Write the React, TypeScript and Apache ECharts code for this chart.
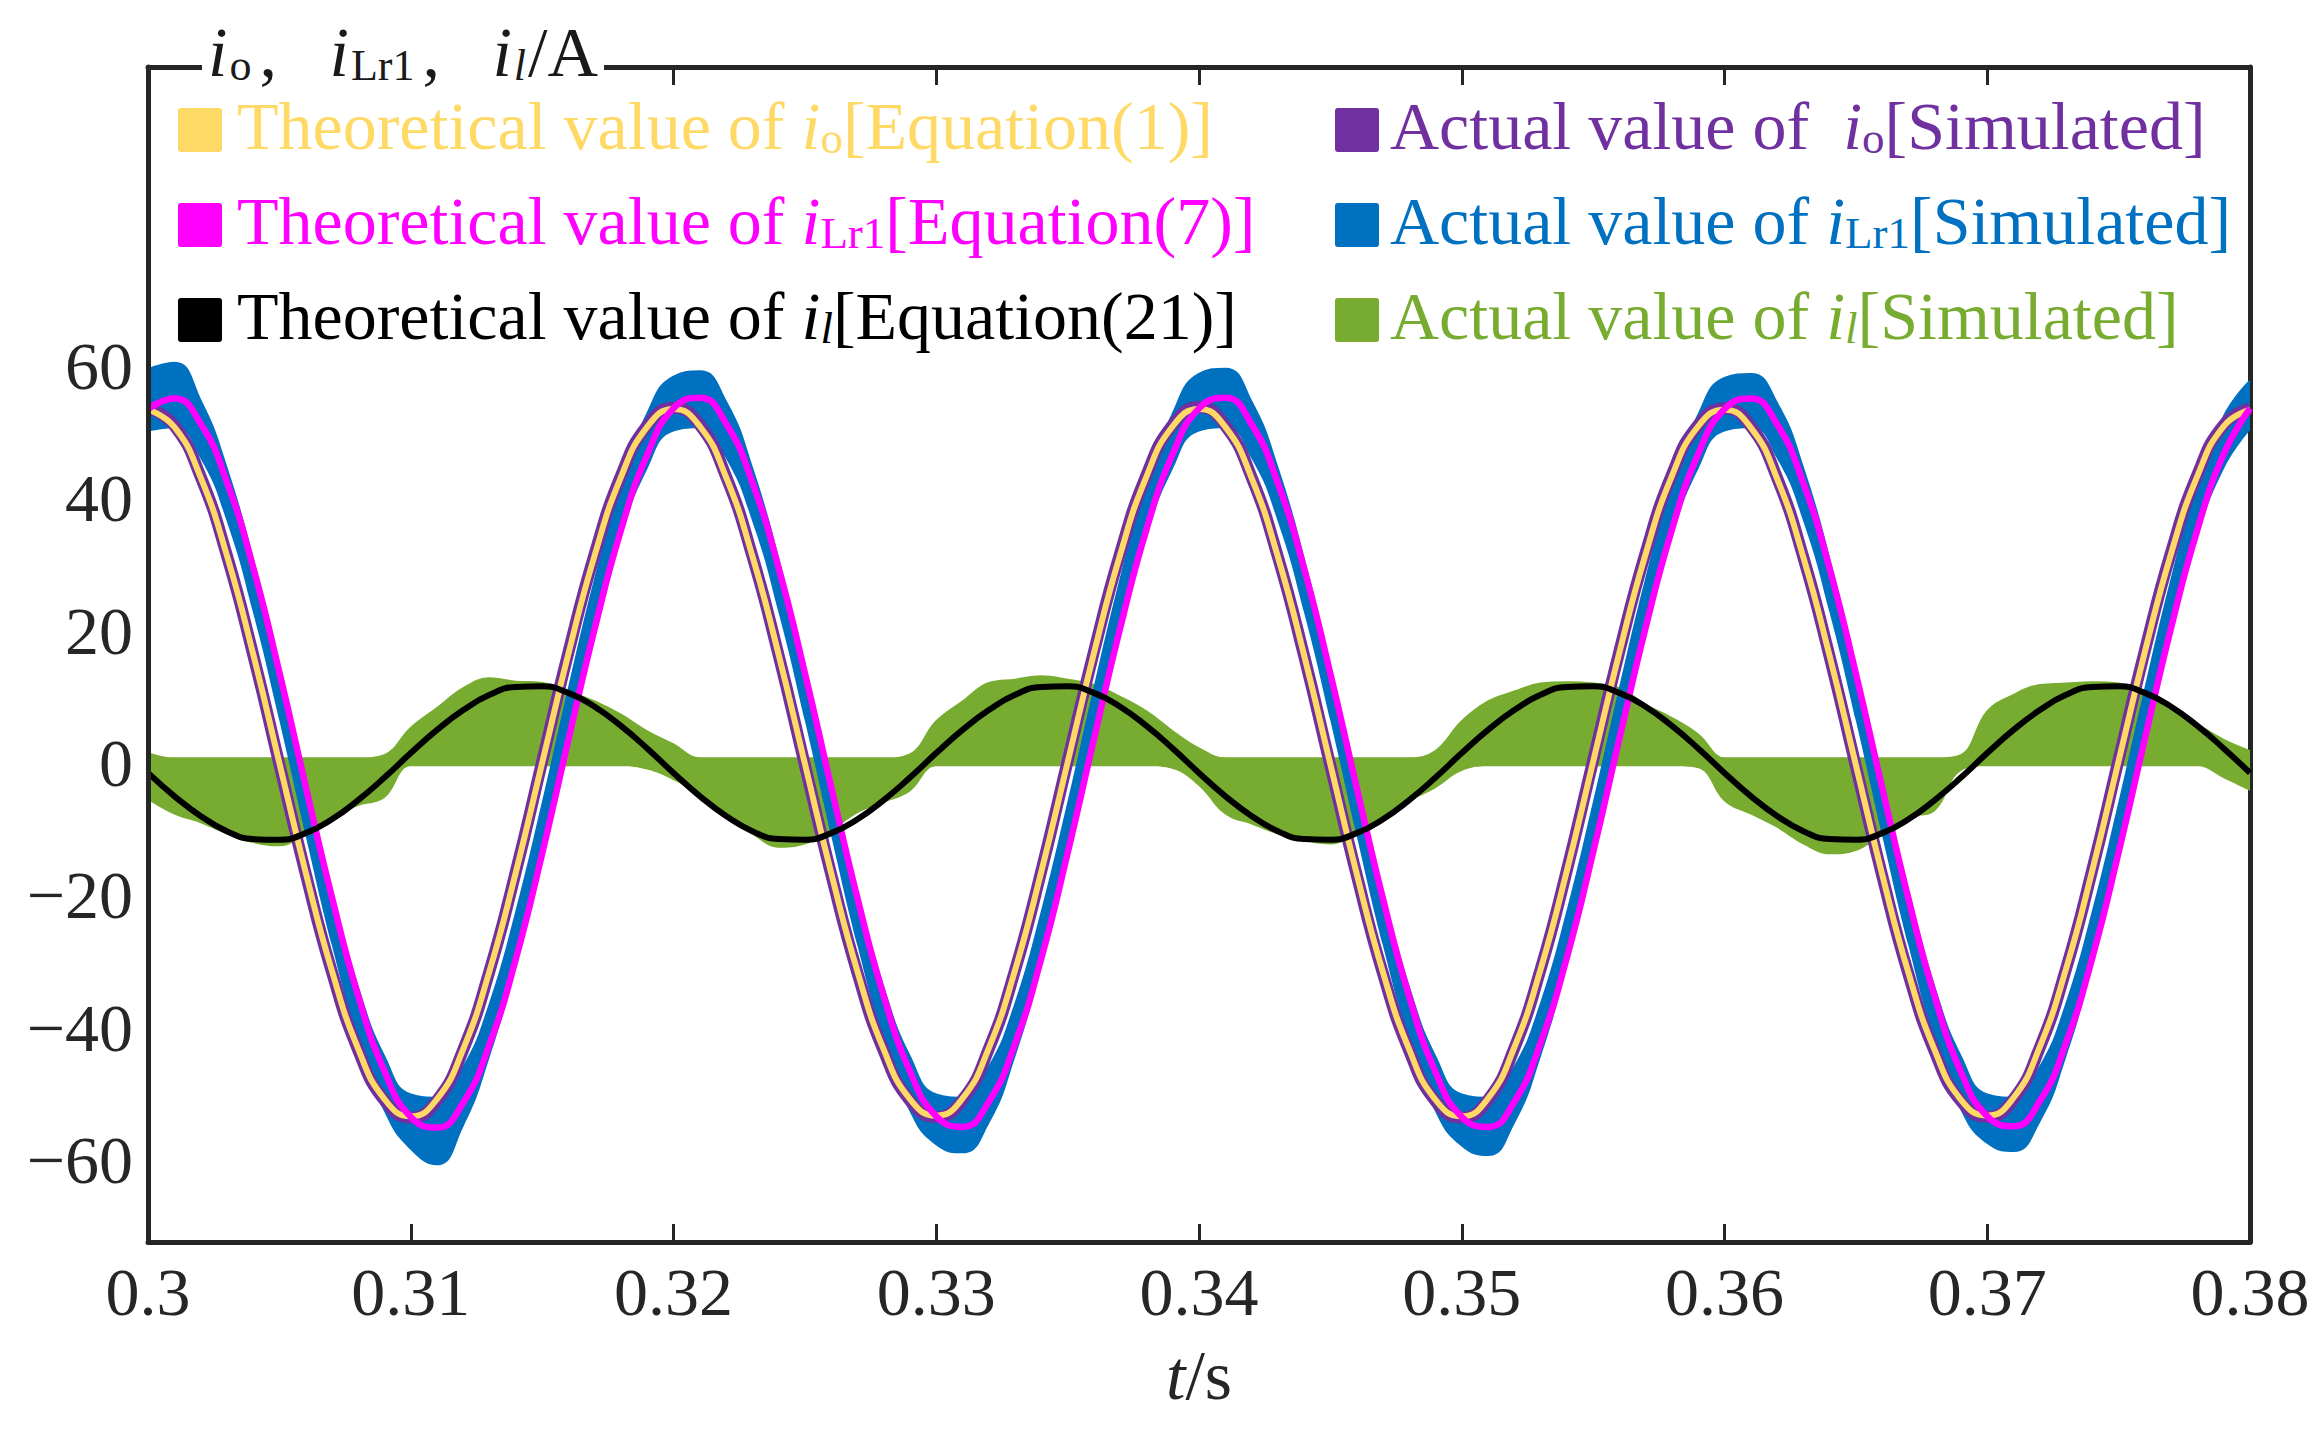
import React, { useEffect, useRef } from "react";
import * as echarts from "echarts";

// sample grid: 0.300 s .. 0.380 s, one sample per ms
const T0 = 0.3;
const DT = 0.001;

// io theoretical, Equation(1)
const ioTheory = [
  53.4, 50.8, 43.2, 31.4, 16.5, 0.0, -16.5, -31.4, -43.2, -50.8, -53.4, -50.8, -43.2, -31.4, -16.5, 0.0, 16.5, 31.4, 43.2, 50.8,
  53.5, 50.9, 43.2, 31.3, 16.4, -0.1, -16.6, -31.5, -43.3, -50.8, -53.3, -50.7, -43.1, -31.3, -16.4, 0.1, 16.6, 31.5, 43.3, 50.9,
  53.5, 50.8, 43.1, 31.2, 16.3, -0.2, -16.7, -31.6, -43.3, -50.9, -53.4, -50.7, -43.0, -31.2, -16.3, 0.2, 16.7, 31.6, 43.4, 50.9,
  53.4, 50.7, 43.0, 31.1, 16.2, -0.3, -16.8, -31.7, -43.4, -50.9, -53.3, -50.6, -42.9, -31.1, -16.2, 0.3, 16.8, 31.7, 43.4, 50.9,
  53.4,
];

// io simulated
const ioActual = [
  53.7, 51.0, 43.3, 31.4, 16.4, -0.2, -16.7, -31.6, -43.4, -51.0, -53.6, -51.0, -43.3, -31.4, -16.4, 0.2, 16.7, 31.6, 43.4, 51.0,
  53.7, 51.1, 43.3, 31.3, 16.3, -0.3, -16.8, -31.7, -43.5, -51.0, -53.5, -50.9, -43.2, -31.3, -16.3, 0.3, 16.8, 31.7, 43.5, 51.1,
  53.8, 51.0, 43.2, 31.2, 16.2, -0.4, -16.9, -31.8, -43.5, -51.1, -53.6, -50.9, -43.1, -31.2, -16.2, 0.4, 16.9, 31.8, 43.6, 51.1,
  53.6, 50.9, 43.1, 31.1, 16.1, -0.5, -17.0, -31.9, -43.6, -51.1, -53.5, -50.8, -43.0, -31.1, -16.1, 0.5, 17.0, 31.9, 43.6, 51.1,
  53.6,
];

// iLr1 theoretical, Equation(7)
const iLr1Theory = [
  53.5, 55.1, 51.3, 42.5, 29.6, 13.7, -3.5, -20.3, -35.2, -46.6, -53.5, -55.1, -51.3, -42.5, -29.6, -13.7, 3.5, 20.3, 35.2, 46.6,
  53.6, 55.2, 51.3, 42.4, 29.5, 13.6, -3.6, -20.4, -35.2, -46.6, -53.4, -55.0, -51.2, -42.4, -29.5, -13.6, 3.6, 20.4, 35.3, 46.7,
  53.6, 55.2, 51.2, 42.3, 29.4, 13.5, -3.7, -20.5, -35.3, -46.7, -53.5, -55.0, -51.2, -42.3, -29.4, -13.5, 3.7, 20.5, 35.3, 46.7,
  53.5, 55.1, 51.2, 42.3, 29.4, 13.5, -3.7, -20.5, -35.3, -46.7, -53.4, -54.9, -51.1, -42.3, -29.4, -13.5, 3.7, 20.5, 35.3, 46.7,
  53.6,
];

// iLr1 simulated: ripple band, upper and lower edge
const iLr1ActualUpper = [
  59.5, 60.5, 54.8, 44.5, 30.7, 14.4, -3.0, -19.6, -34.0, -44.4, -50.1, -50.6, -46.0, -36.5, -22.7, -6.4, 11.0, 27.6, 42.0, 52.8,
  58.4, 59.2, 54.6, 44.5, 30.7, 14.4, -3.0, -19.6, -34.0, -44.4, -50.1, -50.6, -46.0, -36.5, -22.7, -6.4, 11.0, 27.6, 42.0, 52.8,
  58.8, 59.6, 54.6, 44.5, 30.7, 14.4, -3.0, -19.6, -34.0, -44.4, -50.1, -50.6, -46.0, -36.5, -22.7, -6.4, 11.0, 27.6, 42.0, 52.6,
  58.2, 58.8, 54.4, 44.5, 30.7, 14.4, -3.0, -19.6, -34.0, -44.4, -50.1, -50.6, -46.0, -36.5, -22.7, -6.4, 11.0, 27.6, 42.0, 52.4,
  57.8,
];
const iLr1ActualLower = [
  50.1, 50.6, 46.0, 36.5, 22.7, 6.4, -11.0, -27.6, -42.0, -52.8, -58.5, -60.8, -55.0, -44.5, -30.7, -14.4, 3.0, 19.6, 34.0, 44.4,
  50.1, 50.6, 46.0, 36.5, 22.7, 6.4, -11.0, -27.6, -42.0, -52.8, -57.8, -59.0, -54.6, -44.5, -30.7, -14.4, 3.0, 19.6, 34.0, 44.4,
  50.1, 50.6, 46.0, 36.5, 22.7, 6.4, -11.0, -27.6, -42.0, -52.8, -58.0, -59.4, -54.6, -44.5, -30.7, -14.4, 3.0, 19.6, 34.0, 44.4,
  50.1, 50.6, 46.0, 36.5, 22.7, 6.4, -11.0, -27.6, -42.0, -52.6, -57.6, -58.8, -54.4, -44.5, -30.7, -14.4, 3.0, 19.6, 34.0, 44.4,
  50.3,
];

// il theoretical, Equation(21)
const ilTheory = [
  -1.5, -5.0, -8.0, -10.3, -11.5, -11.6, -10.6, -8.5, -5.6, -2.2, 1.5, 5.0, 8.0, 10.3, 11.5, 11.6, 10.6, 8.5, 5.6, 2.2,
  -1.5, -5.0, -8.0, -10.3, -11.5, -11.6, -10.6, -8.5, -5.6, -2.2, 1.5, 5.0, 8.0, 10.3, 11.5, 11.6, 10.6, 8.5, 5.6, 2.2,
  -1.5, -5.0, -8.0, -10.3, -11.5, -11.6, -10.6, -8.5, -5.6, -2.2, 1.5, 5.0, 8.0, 10.3, 11.5, 11.6, 10.6, 8.5, 5.6, 2.2,
  -1.5, -5.0, -8.0, -10.3, -11.5, -11.6, -10.6, -8.5, -5.6, -2.2, 1.5, 5.0, 8.0, 10.3, 11.5, 11.6, 10.6, 8.5, 5.6, 2.2,
  -1.5,
];

// il simulated: switching envelope, upper and lower edge
const ilActualUpper = [
  1.5, 0.7, 0.7, 0.7, 0.7, 0.7, 0.7, 0.7, 0.7, 1.2,
  5.3, 8.3, 11.3, 12.8, 12.3, 12.1, 10.8, 9.3, 7.3, 4.8,
  2.8, 0.7, 0.7, 0.7, 0.7, 0.7, 0.7, 0.7, 0.7, 1.3,
  6.3, 9.3, 12.1, 12.6, 13.1, 12.6, 11.8, 10.0, 7.8, 4.8,
  2.2, 0.7, 0.7, 0.7, 0.7, 0.7, 0.7, 0.7, 0.7, 1.8,
  6.3, 9.3, 10.8, 12.0, 12.2, 12.0, 11.3, 8.8, 6.8, 4.3,
  0.7, 0.7, 0.7, 0.7, 0.7, 0.7, 0.7, 0.7, 0.7, 1.2,
  7.8, 10.3, 11.8, 12.0, 12.2, 12.0, 10.5, 7.8, 5.8, 3.5,
  1.8,
];
const ilActualLower = [
  -5.6, -7.8, -9.1, -10.8, -12.1, -12.6, -10.8, -8.3, -6.5, -5.3,
  -0.5, -0.5, -0.5, -0.5, -0.5, -0.5, -0.5, -0.5, -0.5, -1.0,
  -2.6, -4.8, -7.8, -10.8, -12.8, -12.3, -10.3, -7.6, -6.0, -4.3,
  -0.5, -0.5, -0.5, -0.5, -0.5, -0.5, -0.5, -0.5, -0.5, -0.9,
  -3.5, -7.8, -9.3, -10.8, -11.8, -12.3, -10.8, -8.3, -5.8, -3.8,
  -1.2, -0.5, -0.5, -0.5, -0.5, -0.5, -0.5, -0.5, -0.5, -0.8,
  -5.8, -7.8, -9.8, -12.3, -13.8, -13.3, -10.8, -8.3, -7.3, -1.2,
  -0.5, -0.5, -0.5, -0.5, -0.5, -0.5, -0.5, -0.5, -0.5, -2.3,
  -4.2,
];

const yTicks = [-60, -40, -20, 0, 20, 40, 60];
const yTicksRight = [-60, -40, -20, 0, 20, 40, 60, 73.5];

const times = ioTheory.map((_, k) => (T0 + k * DT).toFixed(3));

const YELLOW = "#FFD966";
const PURPLE = "#7030A0";
const MAGENTA = "#FF00FF";
const BLUE = "#0070C0";
const BLACK = "#000000";
const GREEN = "#77AC30";
const AXIS = "#262626";
const INK = "#1a1a1a";
const SERIF = "'Liberation Serif', 'DejaVu Serif', serif";

const SQUARE = "path://M3,0H42Q45,0 45,3V42Q45,45 42,45H3Q0,45 0,42V3Q0,0 3,0Z";

const band = (hi: number[], lo: number[]) => hi.map((v, k) => +(v - lo[k]).toFixed(2));

const legendTexts: Record<string, string> = {
  ioTheory: "{p|Theoretical value of }{i|i}{s|o}{t|[Equation(1)]}",
  iLr1Theory: "{p|Theoretical value of }{i|i}{s|Lr1}{t|[Equation(7)]}",
  ilTheory: "{p|Theoretical value of }{i|i}{si|l}{t|[Equation(21)]}",
  ioActual: "{p|Actual value of  }{i|i}{s|o}{t|[Simulated]}",
  iLr1Actual: "{p|Actual value of }{i|i}{s|Lr1}{t|[Simulated]}",
  ilActual: "{p|Actual value of }{i|i}{si|l}{t|[Simulated]}",
};

function richFor(color: string, pad: number) {
  const base = { fontFamily: SERIF, fontSize: 68, lineHeight: 60, color, verticalAlign: "bottom" };
  const sub = { fontFamily: SERIF, fontSize: 45, lineHeight: 44, color, verticalAlign: "bottom" };
  return {
    p: { ...base, padding: [0, 0, 0, pad] },
    t: base,
    i: { ...base, fontStyle: "italic" },
    s: sub,
    si: { ...sub, fontStyle: "italic" },
  };
}

function legendItem(name: string, color: string, left: number, top: number, pad: number) {
  return {
    left,
    top,
    orient: "vertical",
    padding: 0,
    itemWidth: 44,
    itemHeight: 45,
    selectedMode: false,
    icon: SQUARE,
    data: [{ name, itemStyle: { color } }],
    formatter: () => legendTexts[name],
    textStyle: { color, rich: richFor(color, pad) },
  };
}

// y axis title rich styles
const titleBase = { fontFamily: SERIF, fontSize: 70, lineHeight: 56, color: INK, verticalAlign: "bottom" };
const titleSub = { fontFamily: SERIF, fontSize: 44, lineHeight: 40, color: INK, verticalAlign: "bottom", padding: [0, 2, 0, 2] };
const titleRich = {
  t: titleBase,
  i: { ...titleBase, fontStyle: "italic" },
  c: { ...titleBase, padding: [0, 0, 0, 6] },
  s: titleSub,
  si: { ...titleSub, fontStyle: "italic" },
};

const App = () => {
  const ref = useRef<HTMLDivElement>(null);

  useEffect(() => {
    const chart = echarts.init(ref.current, null, { renderer: "svg" });

    const xCommon = {
      type: "category",
      data: times,
      boundaryGap: false,
      axisLine: { onZero: false, lineStyle: { color: AXIS, width: 5 } },
      axisTick: { inside: true, length: 18, interval: 9, lineStyle: { color: AXIS, width: 3 } },
      splitLine: { show: false },
    };
    const yCommon = {
      type: "value",
      min: -72.4,
      max: 105.2,
      axisLine: { show: true, onZero: false, lineStyle: { color: AXIS, width: 5 } },
      splitLine: { show: false },
    };

    chart.setOption({
      animation: false,
      backgroundColor: "#ffffff",
      grid: { left: 148, right: 74, top: 67, bottom: 198, outerBoundsMode: "none" },
      xAxis: [
        {
          ...xCommon,
          position: "bottom",
          axisLabel: {
            interval: 9,
            formatter: (v: string) => String(Number(v)),
            fontFamily: SERIF,
            fontSize: 68,
            color: AXIS,
            margin: 16,
          },
          name: "{it|t}{t|/s}",
          nameLocation: "middle",
          nameGap: 98,
          nameTextStyle: {
            rich: {
              it: { fontFamily: SERIF, fontSize: 70, fontStyle: "italic", color: AXIS },
              t: { fontFamily: SERIF, fontSize: 70, color: AXIS },
            },
          },
        },
        { ...xCommon, position: "top", axisLabel: { show: false }, z: 0 },
      ],
      yAxis: [
        {
          ...yCommon,
          position: "left",
          z: 10,
          axisTick: { inside: true, length: 18, customValues: yTicks, lineStyle: { color: AXIS, width: 3 } },
          axisLabel: {
            customValues: yTicks,
            formatter: (v: number) => (v < 0 ? "\u2212" + Math.abs(v) : String(v)),
            fontFamily: SERIF,
            fontSize: 68,
            color: AXIS,
            margin: 15,
          },
          name: "{i|i}{s|o}{c|,   }{i|i}{s|Lr1}{c|,   }{i|i}{si|l}{t|/A}",
          nameLocation: "end",
          nameGap: 8,
          nameTextStyle: {
            align: "left",
            verticalAlign: "middle",
            padding: [0, 0, 0, 60],
            rich: titleRich,
          },
        },
        {
          ...yCommon,
          position: "right",
          axisTick: { inside: true, length: 18, customValues: yTicksRight, lineStyle: { color: AXIS, width: 3 } },
          axisLabel: { show: false },
        },
      ],
      legend: [
        legendItem("ioTheory", YELLOW, 178, 92, 10),
        legendItem("iLr1Theory", MAGENTA, 178, 187, 10),
        legendItem("ilTheory", BLACK, 178, 282, 10),
        legendItem("ioActual", PURPLE, 1335, 92, 6),
        legendItem("iLr1Actual", BLUE, 1335, 187, 6),
        legendItem("ilActual", GREEN, 1335, 282, 6),
      ],
      graphic: [
        // white gap in the top frame behind the y axis title
        {
          type: "rect",
          z: 5,
          silent: true,
          shape: { x: 202, y: 30, width: 402, height: 58 },
          style: { fill: "#ffffff" },
        },
      ],
      series: [
        {
          name: "ilBase",
          type: "line",
          data: ilActualLower,
          stack: "il",
          stackStrategy: "all",
          smooth: 0.4,
          symbol: "none",
          silent: true,
          lineStyle: { width: 0, opacity: 0 },
          z: 1,
        },
        {
          name: "ilActual",
          type: "line",
          data: band(ilActualUpper, ilActualLower),
          stack: "il",
          stackStrategy: "all",
          smooth: 0.4,
          symbol: "none",
          itemStyle: { color: GREEN },
          lineStyle: { width: 2, color: GREEN },
          areaStyle: { color: GREEN, opacity: 1 },
          z: 1,
        },
        {
          name: "iLr1Base",
          type: "line",
          data: iLr1ActualLower,
          stack: "ilr1",
          stackStrategy: "all",
          smooth: true,
          symbol: "none",
          silent: true,
          lineStyle: { width: 0, opacity: 0 },
          z: 2,
        },
        {
          name: "iLr1Actual",
          type: "line",
          data: band(iLr1ActualUpper, iLr1ActualLower),
          stack: "ilr1",
          stackStrategy: "all",
          smooth: true,
          symbol: "none",
          itemStyle: { color: BLUE },
          lineStyle: { width: 2, color: BLUE },
          areaStyle: { color: BLUE, opacity: 1 },
          z: 2,
        },
        {
          name: "ioActual",
          type: "line",
          data: ioActual,
          smooth: true,
          symbol: "none",
          itemStyle: { color: PURPLE },
          lineStyle: { width: 12, color: PURPLE },
          z: 3,
        },
        {
          name: "ioTheory",
          type: "line",
          data: ioTheory,
          smooth: true,
          symbol: "none",
          itemStyle: { color: YELLOW },
          lineStyle: { width: 6, color: YELLOW },
          z: 4,
        },
        {
          name: "iLr1Theory",
          type: "line",
          data: iLr1Theory,
          smooth: true,
          symbol: "none",
          itemStyle: { color: MAGENTA },
          lineStyle: { width: 6.5, color: MAGENTA },
          z: 5,
        },
        {
          name: "ilTheory",
          type: "line",
          data: ilTheory,
          smooth: true,
          symbol: "none",
          itemStyle: { color: BLACK },
          lineStyle: { width: 6, color: BLACK },
          z: 6,
        },
      ],
    });

    return () => {
      chart.dispose();
    };
  }, []);

  return (
    <div
      ref={ref}
      style={{ position: "fixed", left: 0, top: 0, width: 2324, height: 1440, background: "#fff" }}
    ></div>
  );
};

export default App;
